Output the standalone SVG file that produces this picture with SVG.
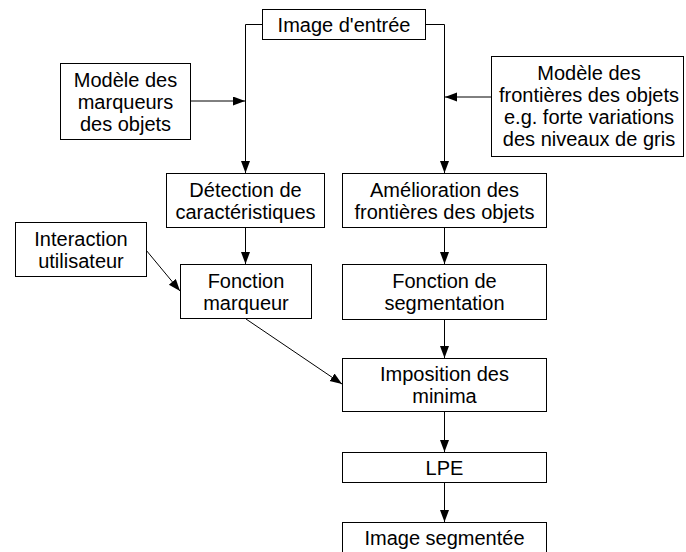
<svg xmlns="http://www.w3.org/2000/svg" width="686" height="552" viewBox="0 0 686 552">
<defs>
<marker id="ah" markerUnits="userSpaceOnUse" markerWidth="12" markerHeight="10" refX="12" refY="4.5" orient="auto">
<path d="M0,0 L12,4.5 L0,9 z" fill="#000"/>
</marker>
<style>
rect{fill:#fff;stroke:#000;stroke-width:1}
text{font-family:"Liberation Sans",Arial,sans-serif;font-size:20px;fill:#000;text-anchor:middle}
.c{fill:none;stroke:#000;stroke-width:1;marker-end:url(#ah)}
</style>
</defs>
<rect x="0" y="0" width="686" height="552" style="stroke:none"/>
<g id="connectors">
<path class="c" d="M262,24.5 H245.5 V173"/>
<path class="c" d="M425,24.5 H444.5 V173"/>
<path class="c" d="M190,101 H245"/>
<path class="c" d="M491,97 H445"/>
<path class="c" d="M245.5,227 V264"/>
<path class="c" d="M444.5,227 V264"/>
<path class="c" d="M146,250 L180,291"/>
<path class="c" d="M246,319 L342,384"/>
<path class="c" d="M444.5,320 V358"/>
<path class="c" d="M444.5,411 V452"/>
<path class="c" d="M444.5,482 V522"/>
</g>
<g id="input"><rect x="262.5" y="9.5" width="163" height="30"/><text x="344" y="31.5">Image d'entrée</text></g>
<g id="markersModel"><rect x="60.5" y="63.5" width="130" height="76"/><text x="125.5" y="86.5">Modèle des</text><text x="125.5" y="108.5">marqueurs</text><text x="125.5" y="130.5">des objets</text></g>
<g id="boundariesModel"><rect x="491.5" y="56.5" width="192" height="100"/><text x="589" y="80">Modèle des</text><text x="589" y="102">frontières des objets</text><text x="589" y="124">e.g. forte variations</text><text x="589" y="146">des niveaux de gris</text></g>
<g id="detection"><rect x="166.5" y="173.5" width="158" height="54"/><text x="245.5" y="197">Détection de</text><text x="245.5" y="219">caractéristiques</text></g>
<g id="amelioration"><rect x="342.5" y="173.5" width="204" height="54"/><text x="444.5" y="197">Amélioration des</text><text x="444.5" y="219">frontières des objets</text></g>
<g id="interaction"><rect x="15.5" y="222.5" width="131" height="54"/><text x="81" y="246">Interaction</text><text x="81" y="268">utilisateur</text></g>
<g id="markerFunction"><rect x="180.5" y="264.5" width="131" height="54"/><text x="246" y="288">Fonction</text><text x="246" y="310">marqueur</text></g>
<g id="segFunction"><rect x="342.5" y="264.5" width="204" height="55"/><text x="444.5" y="288">Fonction de</text><text x="444.5" y="310">segmentation</text></g>
<g id="imposition"><rect x="342.5" y="358.5" width="204" height="53"/><text x="444.5" y="381">Imposition des</text><text x="444.5" y="403">minima</text></g>
<g id="lpe"><rect x="342.5" y="452.5" width="204" height="30"/><text x="444.5" y="474.5">LPE</text></g>
<g id="output"><rect x="342.5" y="522.5" width="204" height="30"/><text x="444.5" y="544.5">Image segmentée</text></g>
</svg>
